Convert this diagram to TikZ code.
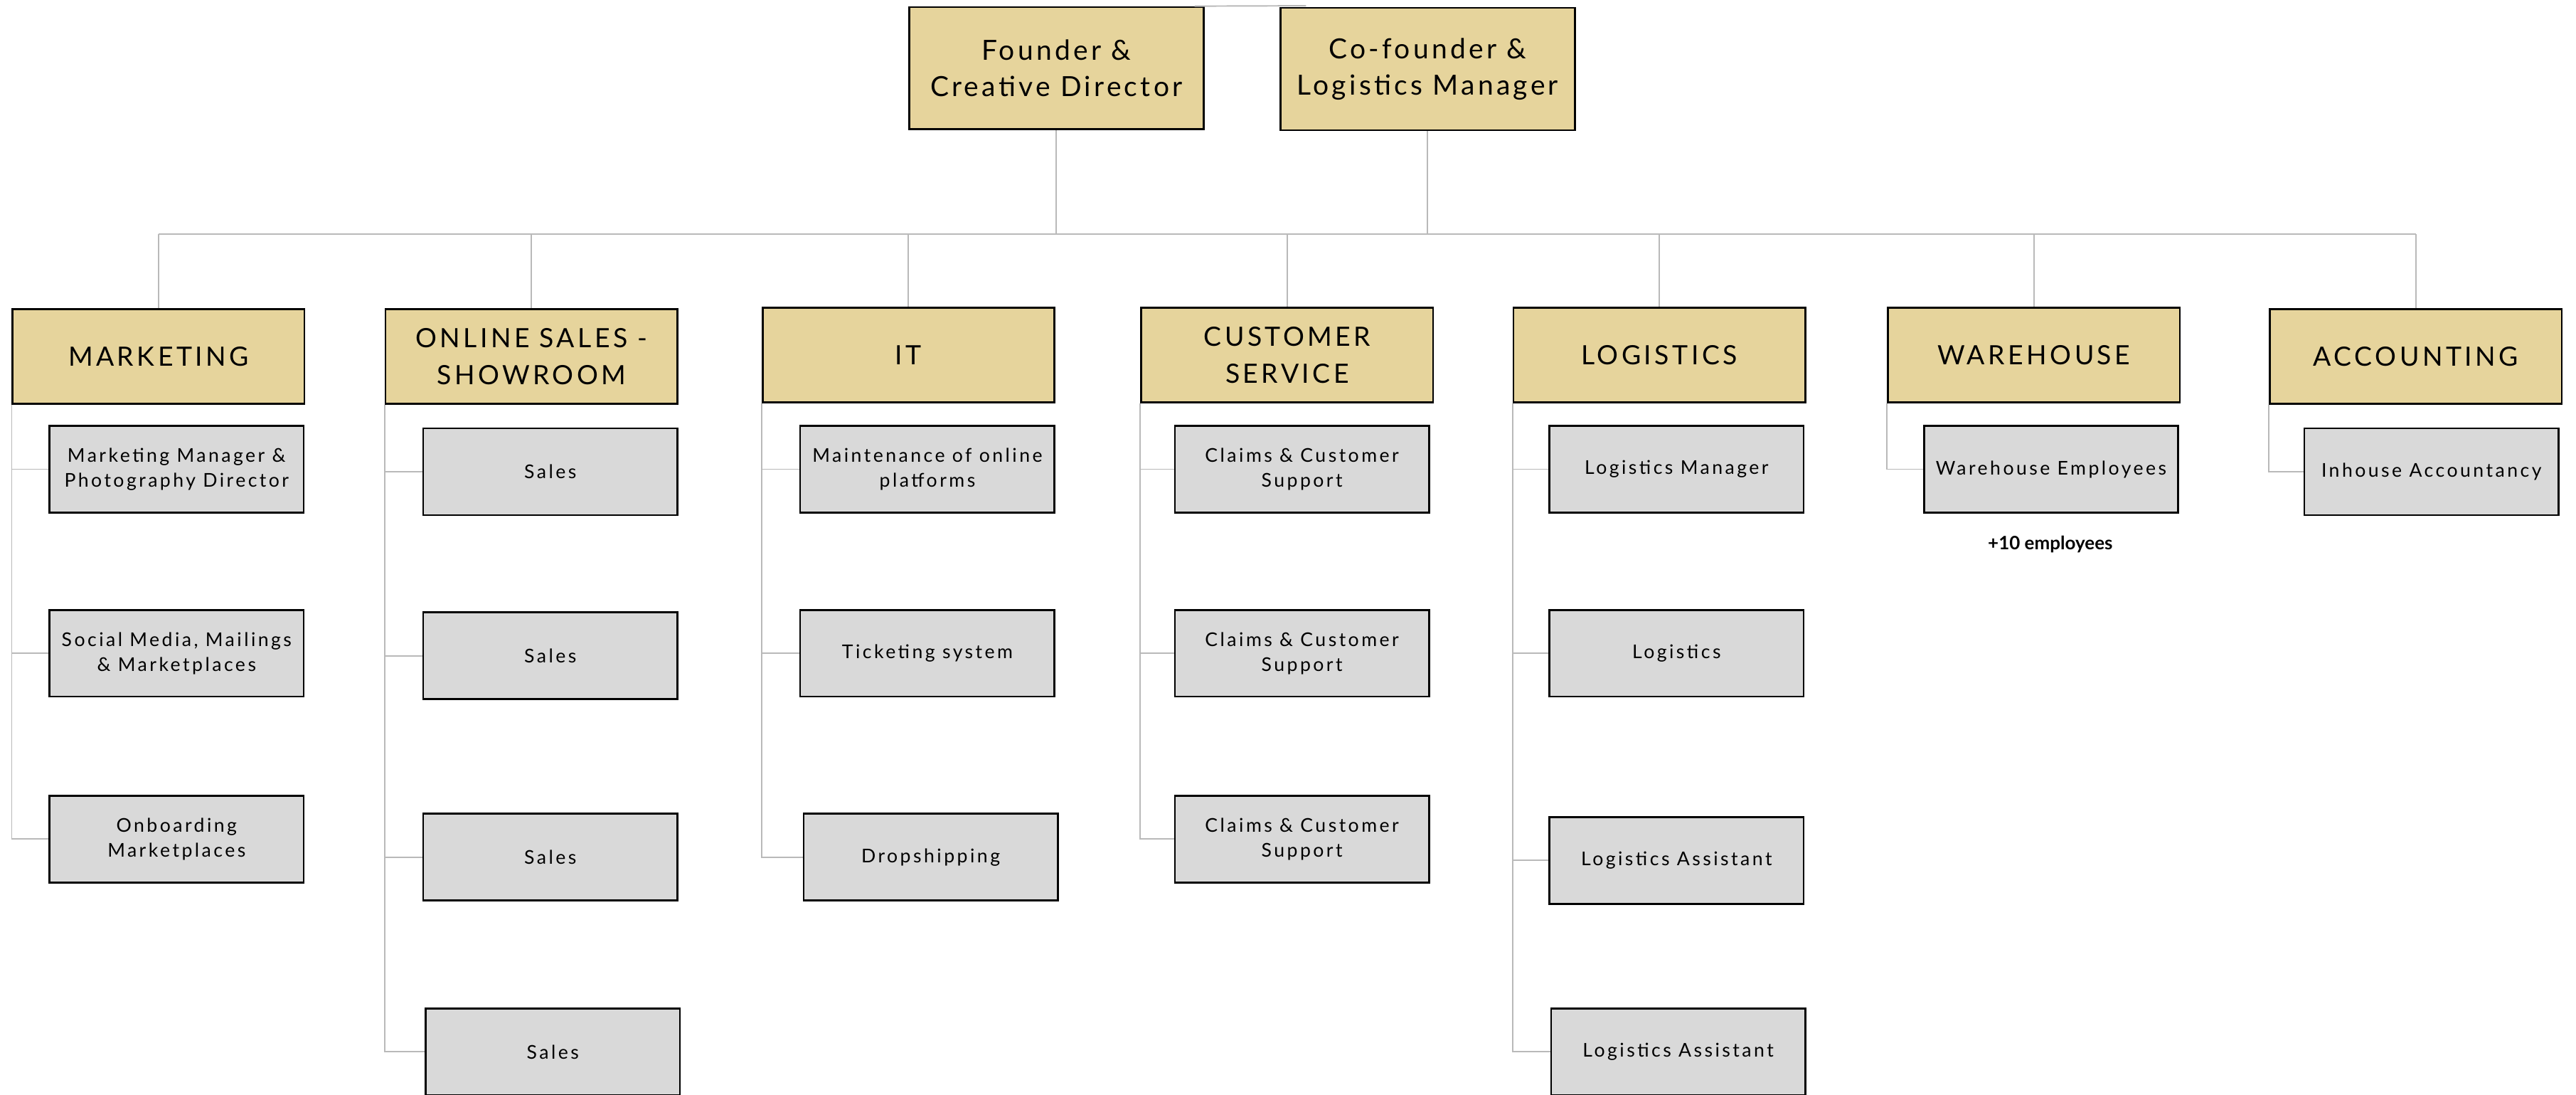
\documentclass[tikz,border=0pt]{standalone}
\usepackage{fontspec}
\setmainfont{Lato}
\newfontfamily\headfont[LetterSpace=11]{Lato}
\newfontfamily\deptfont[LetterSpace=12]{Lato}
\newfontfamily\rolefont[LetterSpace=13]{Lato}
\definecolor{gold}{HTML}{E6D49C}
\definecolor{rolegray}{HTML}{D9D9D9}
\definecolor{linkgray}{HTML}{B9B9B9}

\begin{document}
\begin{tikzpicture} [x=0.25mm, y=-0.25mm,
  head/.style={draw, line width=0.8pt, fill=gold, minimum width=44.8mm, minimum height=18.6mm, align=center, font=\headfont\fontsize{12}{15.6}\selectfont},
  dept/.style={draw, line width=0.8pt, fill=gold, minimum width=44.4mm, minimum height=14.4mm, align=center, font=\deptfont\fontsize{11.5}{16}\selectfont},
  role/.style={draw, line width=0.8pt, fill=rolegray, minimum width=38.7mm, minimum height=13.2mm, align=center, font=\rolefont\fontsize{8.2}{10.8}\selectfont},
  link/.style={draw=linkgray, line width=0.6pt}]
\useasboundingbox (0,0) rectangle (1568,666.2);
\node[head](f1) at (643,41.5) {Founder \&\\Creative Director};
\node[head](f2) at (869,42) {Co-founder \&\\Logistics Manager};
\node[dept](mk) at (96.5,217) {MARKETING};
\node[dept](os) at (323.5,217) {ONLINE SALES -\\SHOWROOM};
\node[dept](it) at (553,216) {IT};
\node[dept](cs) at (783.5,216) {CUSTOMER\\SERVICE};
\node[dept](lo) at (1010,216) {LOGISTICS};
\node[dept](wh) at (1238,216) {WAREHOUSE};
\node[dept](ac) at (1470.5,217) {ACCOUNTING};
\node[role](mk1) at (107.5,285.5) {Marketing Manager \&\\Photography Director};
\node[role](mk2) at (107.5,397.5) {Social Media, Mailings\\\& Marketplaces};
\node[role](mk3) at (107.5,510.5) {Onboarding\\Marketplaces};
\node[role](os1) at (335,287) {Sales};
\node[role](os2) at (335,399) {Sales};
\node[role](os3) at (335,521.5) {Sales};
\node[role](os4) at (336.5,640) {Sales};
\node[role](it1) at (564.5,285.5) {Maintenance of online\\platforms};
\node[role](it2) at (564.5,397.5) {Ticketing system};
\node[role](it3) at (566.5,521.5) {Dropshipping};
\node[role](cs1) at (792.5,285.5) {Claims \& Customer\\Support};
\node[role](cs2) at (792.5,397.5) {Claims \& Customer\\Support};
\node[role](cs3) at (792.5,510.5) {Claims \& Customer\\Support};
\node[role](lo1) at (1020.5,285.5) {Logistics Manager};
\node[role](lo2) at (1020.5,397.5) {Logistics};
\node[role](lo3) at (1020.5,523.5) {Logistics Assistant};
\node[role](lo4) at (1021.5,640) {Logistics Assistant};
\node[role](wh1) at (1248.5,285.5) {Warehouse Employees};
\node[role](ac1) at (1480,287) {Inhouse Accountancy};
\node[font=\bfseries\fontsize{8}{9}\selectfont](more) at (1248,331) {+10 employees};
\coordinate (bus) at (0,142.5);
\coordinate (tip) at (795,3.5);
\draw[link] ([xshift=-1.5mm]f1.north east) -- (tip);
\draw[link] (f1.south) -- (f1.south |- bus);
\draw[link] (f2.south) -- (f2.south |- bus);
\draw[link] (mk.north |- bus) -- (ac.north |- bus);
\draw[link] (mk.north) -- (mk.north |- bus);
\draw[link] (os.north) -- (os.north |- bus);
\draw[link] (it.north) -- (it.north |- bus);
\draw[link] (cs.north) -- (cs.north |- bus);
\draw[link] (lo.north) -- (lo.north |- bus);
\draw[link] (wh.north) -- (wh.north |- bus);
\draw[link] (ac.north) -- (ac.north |- bus);
\draw[link] (mk.south west) |- (mk1.west);
\draw[link] (mk.south west) |- (mk2.west);
\draw[link] (mk.south west) |- (mk3.west);
\draw[link] (os.south west) |- (os1.west);
\draw[link] (os.south west) |- (os2.west);
\draw[link] (os.south west) |- (os3.west);
\draw[link] (os.south west) |- (os4.west);
\draw[link] (it.south west) |- (it1.west);
\draw[link] (it.south west) |- (it2.west);
\draw[link] (it.south west) |- (it3.west);
\draw[link] (cs.south west) |- (cs1.west);
\draw[link] (cs.south west) |- (cs2.west);
\draw[link] (cs.south west) |- (cs3.west);
\draw[link] (lo.south west) |- (lo1.west);
\draw[link] (lo.south west) |- (lo2.west);
\draw[link] (lo.south west) |- (lo3.west);
\draw[link] (lo.south west) |- (lo4.west);
\draw[link] (wh.south west) |- (wh1.west);
\draw[link] (ac.south west) |- (ac1.west);
\end{tikzpicture}
\end{document}
